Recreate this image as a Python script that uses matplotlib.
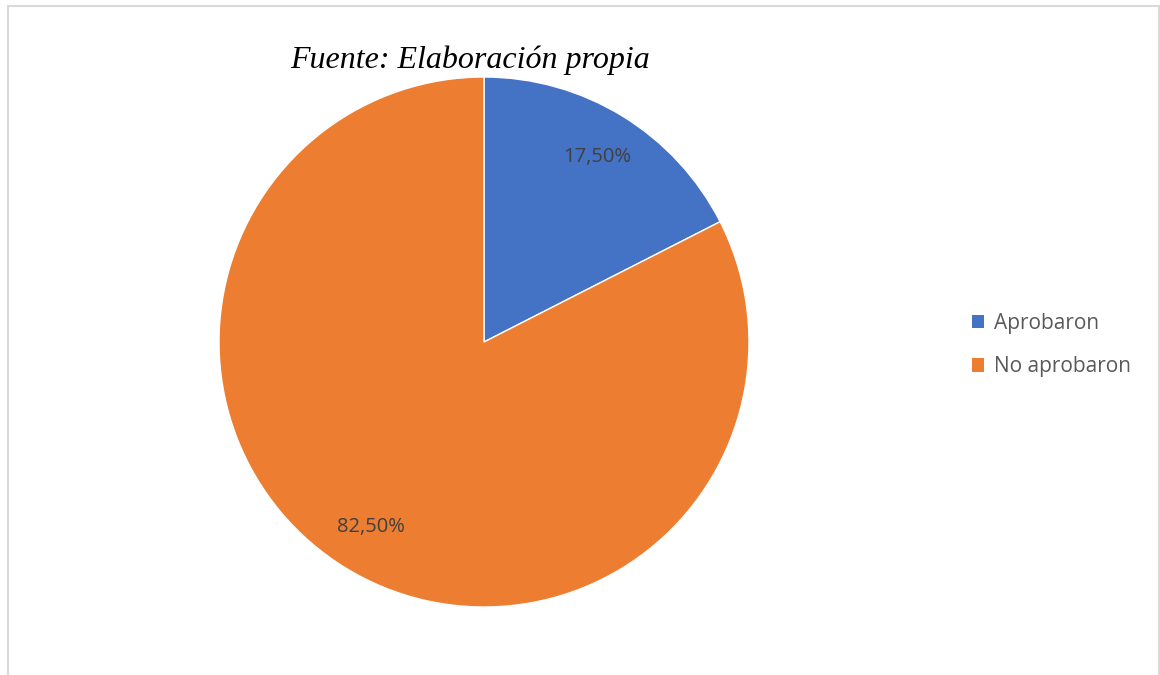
import matplotlib.pyplot as plt
from matplotlib.patches import Rectangle, Patch

labels = ['Aprobaron', 'No aprobaron']
values = [17.5, 82.5]
colors = ['#4472C4', '#ED7D31']

fig = plt.figure(figsize=(11.6, 6.75), dpi=100)
W, H = 1160, 675

# chart frame (open at the bottom)
fig.patches.append(Rectangle((8 / W, -0.01), 1151 / W, (675 - 6) / H + 0.01,
                             transform=fig.transFigure, fill=False,
                             edgecolor='#d9d9d9', linewidth=1.5))

ax = fig.add_axes([219 / W, (675 - 607) / H, 530 / W, 530 / H])
wedges, texts, autotexts = ax.pie(
    values, colors=colors, startangle=90, counterclock=False,
    autopct=lambda p: f'{p:.2f}%'.replace('.', ','), pctdistance=0.82,
    wedgeprops=dict(edgecolor='white', linewidth=1),
    textprops=dict(color='#404040', fontsize=14.5, family='Open Sans'))
ax.set_xlim(-1, 1)
ax.set_ylim(-1, 1)
ax.set_aspect('equal')

fig.text(470 / W, 1 - 60 / H, 'Fuente: Elaboración propia', ha='center', va='center',
         fontsize=23, style='italic', family='Liberation Serif', color='black')

handles = [Patch(facecolor=c, edgecolor='none') for c in colors]
fig.legend(handles, labels, loc='center left', bbox_to_anchor=(953 / W, 1 - 345 / H),
           frameon=False, prop=dict(family='Open Sans', size=15), labelcolor='#595959',
           handlelength=0.6, handleheight=0.6, handletextpad=0.45, labelspacing=1.1)

fig.savefig('out.png', dpi=100)
